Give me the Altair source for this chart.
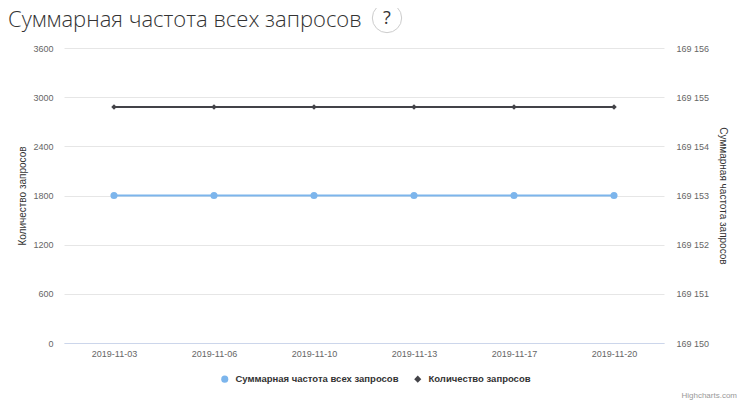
import altair as alt
import pandas as pd

dates = ["2019-11-03", "2019-11-06", "2019-11-10", "2019-11-13", "2019-11-17", "2019-11-20"]
total_freq = [169153, 169153, 169153, 169153, 169153, 169153]
query_count = [2880, 2880, 2880, 2880, 2880, 2880]
series_names = ["Суммарная частота всех запросов", "Количество запросов"]
left_ticks = [0, 600, 1200, 1800, 2400, 3000, 3600]
right_ticks = [169150, 169151, 169152, 169153, 169154, 169155, 169156]
chart_title = "Суммарная частота всех запросов"

df_freq = pd.DataFrame({"date": dates, "value": total_freq, "series": series_names[0]})
df_count = pd.DataFrame({"date": dates, "value": query_count, "series": series_names[1]})

LAB = "#666666"
FONT = "Liberation Sans"

x_enc = alt.X("date:N", sort=dates, title=None,
              scale=alt.Scale(type="point", padding=0.5),
              axis=alt.Axis(labelAngle=0, ticks=False, domainColor="#ccd6eb", domainWidth=1,
                            labelColor=LAB, labelFontSize=9, labelFont=FONT, labelPadding=6,
                            grid=False))

color = alt.Color("series:N", scale=alt.Scale(domain=series_names, range=["#7cb5ec", "#434348"]),
                  legend=alt.Legend(title=None, orient="none", direction="horizontal",
                                    legendX=156, legendY=326, labelFont=FONT, labelFontSize=9.5,
                                    labelFontWeight="bold", labelColor="#333333", symbolSize=50,
                                    symbolStrokeWidth=0, columnPadding=14, labelLimit=300,
                                    labelOffset=6))
shape = alt.Shape("series:N", scale=alt.Scale(domain=series_names, range=["circle", "diamond"]),
                  legend=None)

y_left = alt.Y("value:Q", title="Количество запросов",
               scale=alt.Scale(domain=[0, 3600], nice=False, zero=False),
               axis=alt.Axis(values=left_ticks, orient="left", domain=False, ticks=False,
                             grid=True, gridColor="#e6e6e6", labelColor=LAB, labelFontSize=9,
                             labelFont=FONT, labelPadding=11, format="d",
                             titleFont=FONT, titleFontSize=10,
                             titleFontWeight="normal", titleColor="#333333", titlePadding=5))
y_right = alt.Y("value:Q", title="Суммарная частота запросов",
                scale=alt.Scale(domain=[169150, 169156], nice=False, zero=False),
                axis=alt.Axis(values=right_ticks, orient="right", domain=False, ticks=False,
                              grid=False, labelColor=LAB, labelFontSize=9, labelFont=FONT,
                              labelPadding=12,
                              labelExpr="replace(format(datum.value, ',d'), ',', ' ')",
                              titleFont=FONT, titleFontSize=10, titleFontWeight="normal",
                              titleColor="#333333", titleAngle=90, titlePadding=9))

count_line = alt.Chart(df_count).mark_line(strokeWidth=2, color="#434348").encode(
    x=x_enc, y=y_left, color=color)
count_pts = alt.Chart(df_count).mark_point(filled=True, size=30, opacity=1).encode(
    x=x_enc, y=y_left, color=color, shape=shape)
freq_line = alt.Chart(df_freq).mark_line(strokeWidth=2).encode(
    x=x_enc, y=y_right, color=color)
freq_pts = alt.Chart(df_freq).mark_point(filled=True, size=50, opacity=1).encode(
    x=x_enc, y=y_right, color=color, shape=shape)

left = alt.layer(count_line, count_pts)
right = alt.layer(freq_line, freq_pts)

deco = pd.DataFrame({"t": ["?"]})
title_mark = alt.Chart(deco).mark_text(text=chart_title, font="Open Sans", fontSize=22,
                                       fontWeight=300, color="#333333", align="left",
                                       baseline="alphabetic").encode(
    x=alt.value(-56), y=alt.value(-21))
q_circle = alt.Chart(deco).mark_point(shape="circle", size=860, filled=False,
                                      stroke="#cccccc", strokeWidth=1, fill="white",
                                      fillOpacity=1).encode(
    x=alt.value(323), y=alt.value(-30))
q_text = alt.Chart(deco).mark_text(text="?", font="Open Sans", fontSize=18, color="#333333",
                                   baseline="middle", align="center").encode(
    x=alt.value(323), y=alt.value(-29))
credits = alt.Chart(deco).mark_text(text="Highcharts.com", font=FONT, fontSize=8,
                                    color="#999999", align="right", baseline="middle").encode(
    x=alt.value(673), y=alt.value(348))

chart = alt.layer(left, right, title_mark, q_circle, q_text, credits).resolve_scale(
    y="independent").properties(
    width=600, height=295,
    background="white",
    autosize=alt.AutoSizeParams(type="none"),
    padding={"left": 56, "top": 40, "right": 73, "bottom": 59},
).configure_view(strokeWidth=0, stroke=None).configure_axisY(domain=False)

chart.save("out.html", embed_options={"renderer": "svg", "actions": False})
